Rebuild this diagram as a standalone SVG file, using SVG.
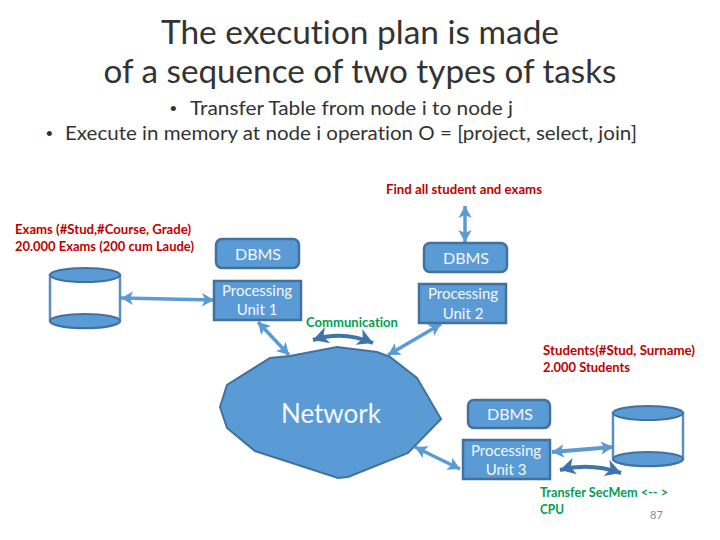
<svg xmlns="http://www.w3.org/2000/svg" width="720" height="540" viewBox="0 0 720 540">
<style>
text{font-family:"Lato","Open Sans","Liberation Sans",sans-serif;font-variant-ligatures:none}
.title{font-size:32px;fill:#333333;text-anchor:middle}
.bul{font-size:19.5px;fill:#333333}
.dot{font-size:19px;fill:#333333;font-family:"Liberation Sans",sans-serif}
.box{fill:#5b9bd5;stroke:#41719c;stroke-width:2.5}
.lbl{fill:#f4f8fc;font-size:15px;text-anchor:middle}
.big{font-size:16px}
.red{fill:#c00000;font-size:12.5px;font-weight:700}
.grn{fill:#00a050;font-size:12.5px;font-weight:700}
.cyl{fill:#ffffff;stroke:#5b8fc0;stroke-width:2.5}
.cap{fill:#5b9bd5;stroke:#41719c;stroke-width:2}
.a{fill:none;stroke:#5b9bd5;stroke-width:3.5;marker-start:url(#h);marker-end:url(#h)}
.d{fill:none;stroke:#3f74a8;stroke-width:4;marker-start:url(#k);marker-end:url(#k)}
</style>
<defs>
<marker id="h" viewBox="0 0 10 10" refX="10" refY="5" markerUnits="userSpaceOnUse" markerWidth="15" markerHeight="15" orient="auto-start-reverse"><path d="M10 5L2 0.5L4 5L2 9.5Z" fill="#5b9bd5"/></marker>
<marker id="k" viewBox="0 0 10 10" refX="10" refY="5" markerUnits="userSpaceOnUse" markerWidth="17" markerHeight="17" orient="auto-start-reverse"><path d="M10 5L1 0L3.5 5L1 10Z" fill="#3f74a8"/></marker>
</defs>
<text class="title" x="360" y="44" textLength="398" lengthAdjust="spacingAndGlyphs">The execution plan is made</text>
<text class="title" x="360" y="83" textLength="513" lengthAdjust="spacingAndGlyphs">of a sequence of two types of tasks</text>
<text class="dot" x="170" y="115">•</text>
<text class="bul" x="190" y="115" textLength="323" lengthAdjust="spacingAndGlyphs">Transfer Table from node i to node j</text>
<text class="dot" x="46" y="140">•</text>
<text class="bul" x="65" y="140" textLength="572" lengthAdjust="spacingAndGlyphs">Execute in memory at node i operation O = [project, select, join]</text>
<text class="red" x="386" y="194" textLength="156" lengthAdjust="spacingAndGlyphs">Find all student and exams</text>
<text class="red" x="15" y="234" textLength="176" lengthAdjust="spacingAndGlyphs">Exams (#Stud,#Course, Grade)</text>
<text class="red" x="15" y="251" textLength="179" lengthAdjust="spacingAndGlyphs">20.000 Exams (200 cum Laude)</text>
<text class="red" x="543" y="355" textLength="152" lengthAdjust="spacingAndGlyphs">Students(#Stud, Surname)</text>
<text class="red" x="543" y="372" textLength="87" lengthAdjust="spacingAndGlyphs">2.000 Students</text>
<text class="grn" x="306" y="327" textLength="92" lengthAdjust="spacingAndGlyphs">Communication</text>
<text class="grn" x="540" y="497" textLength="128" lengthAdjust="spacingAndGlyphs">Transfer SecMem &lt;-- &gt;</text>
<text class="grn" x="540" y="514" textLength="24" lengthAdjust="spacingAndGlyphs">CPU</text>
<text x="650" y="519" font-size="11" fill="#8a8a8a">87</text>
<g id="connectors">
<path class="a" d="M121 298L214 300"/>
<path class="a" d="M258 322L289 355"/>
<path class="a" d="M441 324L388 355"/>
<path class="a" d="M465 206L465 242"/>
<path class="a" d="M415 447L460 469"/>
<path class="a" d="M552 452L613 447" style="stroke-width:4"/>
<path class="d" d="M313 340Q343 330 373 343"/>
<path class="d" d="M560 470Q590 462 621 473"/>
</g>
<g id="db1">
<path class="cyl" d="M50 275V321A35 7 0 0 0 120 321V275Z"/>
<ellipse class="cap" cx="85" cy="275" rx="35" ry="7"/>
<ellipse class="cap" cx="85" cy="321" rx="35" ry="7"/>
</g>
<g id="dbms1"><rect class="box" x="216" y="239" width="83" height="29" rx="6"/><text class="lbl big" x="258" y="260">DBMS</text></g>
<g id="pu1"><rect class="box" x="214" y="281" width="87" height="39"/><text class="lbl" x="257" y="296">Processing</text><text class="lbl" x="257" y="315">Unit 1</text></g>
<g id="dbms2"><rect class="box" x="424" y="243" width="83" height="29" rx="6"/><text class="lbl big" x="466" y="264">DBMS</text></g>
<g id="pu2"><rect class="box" x="419" y="284" width="87" height="39"/><text class="lbl" x="463" y="299">Processing</text><text class="lbl" x="463" y="319">Unit 2</text></g>
<g id="network">
<path class="box" d="M290 356L337 347L377 352L390 357L417 378L441 419L408 453L348 477L338 478L255 451L227 428L220 407L227 385L270 358Z" style="stroke-width:2"/>
<text x="331" y="423" font-size="26" fill="#f4f8fc" text-anchor="middle">Network</text>
</g>
<g id="dbms3"><rect class="box" x="468" y="400" width="82" height="28" rx="6"/><text class="lbl big" x="510" y="420">DBMS</text></g>
<g id="pu3"><rect class="box" x="463" y="440" width="87" height="39"/><text class="lbl" x="506" y="456">Processing</text><text class="lbl" x="506" y="475">Unit 3</text></g>
<g id="db2">
<path class="cyl" d="M613 413V459A35 7 0 0 0 683 459V413Z"/>
<ellipse class="cap" cx="648" cy="413" rx="35" ry="7"/>
<ellipse class="cap" cx="648" cy="459" rx="35" ry="7"/>
</g>
</svg>
